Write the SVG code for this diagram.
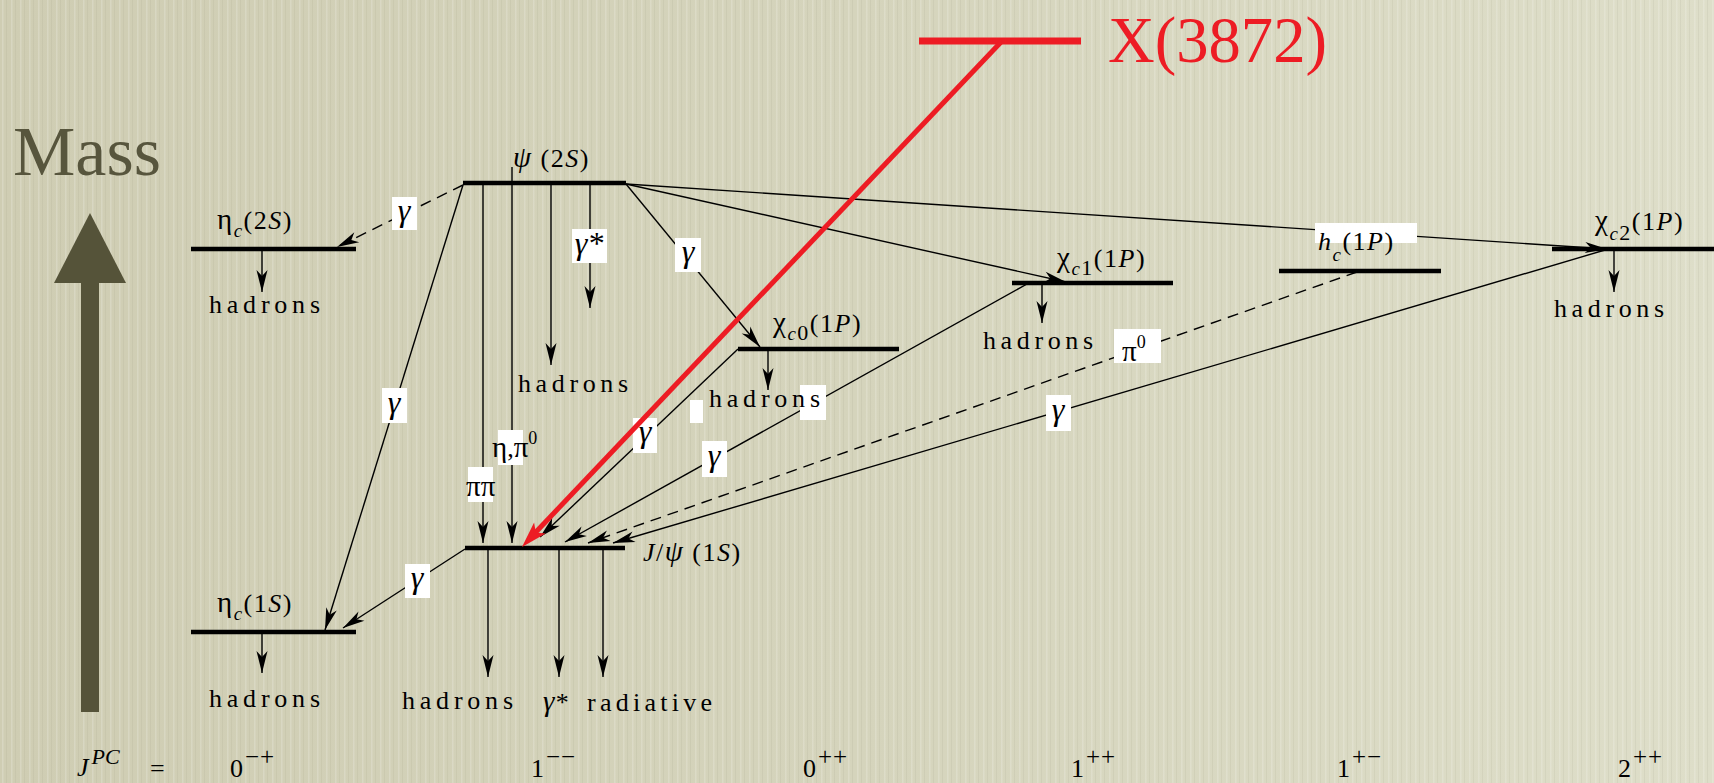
<svg xmlns="http://www.w3.org/2000/svg" width="1714" height="783" viewBox="0 0 1714 783">
<style>
.lvl{stroke:#000;stroke-width:4.5;fill:none}
.ln{stroke:#000;stroke-width:1.4;fill:none}
.dash{stroke-dasharray:11 7}
.arr{marker-end:url(#ah)}
.t{font-family:"Liberation Serif","Times New Roman",serif;font-size:26px;fill:#000}
.ls{letter-spacing:1.5px}
.it{font-style:italic}
.gk{font-size:29px}
.sub{font-size:19px;font-style:italic}
.sup{font-size:18px}
.jsup{font-size:25px;letter-spacing:1px}
.box{fill:#fff}
.g{font-family:"Liberation Serif","Times New Roman",serif;font-size:32px;font-style:italic;fill:#000;text-anchor:middle}
</style>
<defs>
<linearGradient id="bg" x1="0" y1="0" x2="1" y2="0">
<stop offset="0" stop-color="#cfcdb3"/>
<stop offset="0.5" stop-color="#d5d4bc"/>
<stop offset="1" stop-color="#dedec9"/>
</linearGradient>
<pattern id="streaks" width="9" height="40" patternUnits="userSpaceOnUse">
<rect x="2" y="0" width="1.5" height="40" fill="#ffffff" opacity="0.18"/>
<rect x="6" y="0" width="1" height="40" fill="#8f8d70" opacity="0.10"/>
</pattern>
<marker id="ah" markerUnits="userSpaceOnUse" markerWidth="26" markerHeight="14" viewBox="-23 -7 25 14" refX="0" refY="0" orient="auto">
<path d="M0,0 L-22,-5.5 L-16,0 L-22,5.5 Z" fill="#000"/>
</marker>
</defs>
<rect width="1714" height="783" fill="url(#bg)"/>
<rect width="1714" height="783" fill="url(#streaks)"/>

<g id="mass-axis">
<text x="13" y="175" font-family="Liberation Serif,serif" font-size="70" fill="#57553d" textLength="148" lengthAdjust="spacingAndGlyphs">Mass</text>
<polygon points="90,213 54,283 126,283" fill="#555339"/>
<rect x="81" y="280" width="18" height="432" fill="#555339"/>
</g>

<g id="connectors">
<line class="ln dash arr" x1="463" y1="185" x2="337" y2="247"/>
<line class="ln arr" x1="463" y1="185" x2="325" y2="630"/>
<line class="ln arr" x1="465" y1="549" x2="343" y2="628"/>
<line class="ln arr" x1="483" y1="183" x2="483" y2="543"/>
<line class="ln arr" x1="512" y1="167" x2="512" y2="543"/>
<line class="ln arr" x1="551" y1="183" x2="551" y2="365"/>
<line class="ln arr" x1="590" y1="183" x2="590" y2="308"/>
<line class="ln arr" x1="626" y1="184" x2="760" y2="347"/>
<line class="ln arr" x1="626" y1="184" x2="1066" y2="282"/>
<line class="ln arr" x1="626" y1="184" x2="1607" y2="249"/>
<line class="ln arr" x1="738" y1="349" x2="540" y2="537"/>
<line class="ln arr" x1="1027" y1="284" x2="565" y2="542"/>
<line class="ln dash arr" x1="1357" y1="272" x2="588" y2="543"/>
<line class="ln arr" x1="1605" y1="250" x2="613" y2="543"/>
<line class="ln arr" x1="262" y1="249" x2="262" y2="292"/>
<line class="ln arr" x1="262" y1="632" x2="262" y2="673"/>
<line class="ln arr" x1="768" y1="349" x2="768" y2="390"/>
<line class="ln arr" x1="1042" y1="283" x2="1042" y2="323"/>
<line class="ln arr" x1="1614" y1="249" x2="1614" y2="292"/>
<line class="ln arr" x1="488" y1="548" x2="488" y2="677"/>
<line class="ln arr" x1="559" y1="548" x2="559" y2="677"/>
<line class="ln arr" x1="603" y1="548" x2="603" y2="677"/>
</g>

<g id="node-etac2S">
<line class="lvl" x1="191" y1="249" x2="356" y2="249"/>
<text class="t ls" x="217" y="229"><tspan class="gk">η</tspan><tspan class="sub" dy="8">c</tspan><tspan dy="-8">(2</tspan><tspan class="it">S</tspan>)</text>
</g>
<g id="node-etac1S">
<line class="lvl" x1="191" y1="632" x2="356" y2="632"/>
<text class="t ls" x="217" y="612"><tspan class="gk">η</tspan><tspan class="sub" dy="8">c</tspan><tspan dy="-8">(1</tspan><tspan class="it">S</tspan>)</text>
</g>
<g id="node-psi2S">
<line class="lvl" x1="463" y1="183" x2="626" y2="183"/>
<text class="t ls" x="513" y="167"><tspan class="it gk">ψ</tspan> (2<tspan class="it">S</tspan>)</text>
</g>
<g id="node-jpsi1S">
<line class="lvl" x1="465" y1="548" x2="625" y2="548"/>
<text class="t ls" x="643" y="561"><tspan class="it">J</tspan>/<tspan class="it gk">ψ</tspan> (1<tspan class="it">S</tspan>)</text>
</g>
<g id="node-chic0">
<line class="lvl" x1="738" y1="349" x2="899" y2="349"/>
<text class="t ls" x="773" y="332"><tspan class="gk">χ</tspan><tspan class="sub" dy="8">c</tspan><tspan font-size="22">0</tspan><tspan dy="-8">(1</tspan><tspan class="it">P</tspan>)</text>
</g>
<g id="node-chic1">
<line class="lvl" x1="1012" y1="283" x2="1173" y2="283"/>
<text class="t ls" x="1057" y="267"><tspan class="gk">χ</tspan><tspan class="sub" dy="8">c</tspan><tspan font-size="22">1</tspan><tspan dy="-8">(1</tspan><tspan class="it">P</tspan>)</text>
</g>
<g id="node-hc">
<line class="lvl" x1="1279" y1="271" x2="1441" y2="271"/>
<rect class="box" x="1315" y="223" width="102" height="20"/>
<text class="t ls" x="1318" y="250"><tspan class="it">h</tspan><tspan class="sub" dy="11">c</tspan><tspan dy="-11">(1</tspan><tspan class="it">P</tspan>)</text>
</g>
<g id="node-chic2">
<line class="lvl" x1="1552" y1="249" x2="1714" y2="249"/>
<text class="t ls" x="1595" y="230"><tspan class="gk">χ</tspan><tspan class="sub" dy="10">c</tspan><tspan font-size="22">2</tspan><tspan dy="-10">(1</tspan><tspan class="it">P</tspan>)</text>
</g>

<g id="hadrons-labels">
<text class="t" x="209" y="313" textLength="111">hadrons</text>
<text class="t" x="209" y="707" textLength="111">hadrons</text>
<text class="t" x="518" y="392" textLength="110">hadrons</text>
<rect class="box" x="800" y="385" width="26" height="35"/>
<text class="t" x="709" y="407" textLength="111">hadrons</text>
<text class="t" x="983" y="349" textLength="110">hadrons</text>
<text class="t" x="1554" y="317" textLength="110">hadrons</text>
<text class="t" x="402" y="709" textLength="111">hadrons</text>
<text class="t it" x="543" y="711"><tspan class="gk">γ</tspan>*</text>
<text class="t" x="587" y="711" textLength="125">radiative</text>
</g>

<g id="edge-labels">
<rect class="box" x="392" y="197" width="25" height="33"/>
<text class="g" x="404" y="221">γ</text>
<rect class="box" x="382" y="388" width="25" height="35"/>
<text class="g" x="394" y="413">γ</text>
<rect class="box" x="405" y="564" width="25" height="34"/>
<text class="g" x="417" y="588">γ</text>
<rect class="box" x="572" y="229" width="35" height="34"/>
<text class="g" x="589" y="254">γ*</text>
<rect class="box" x="675" y="238" width="26" height="34"/>
<text class="g" x="688" y="262">γ</text>
<rect class="box" x="468" y="467" width="25" height="35"/>
<text class="t gk" x="466" y="496">ππ</text>
<rect class="box" x="498" y="430" width="25" height="35"/>
<text class="t" x="492" y="457"><tspan class="gk">η</tspan>,<tspan class="gk">π</tspan><tspan class="sup" dy="-13">0</tspan></text>
<rect class="box" x="633" y="418" width="24" height="35"/>
<text class="g" x="645" y="442">γ</text>
<rect class="box" x="702" y="441" width="25" height="36"/>
<text class="g" x="714" y="466">γ</text>
<rect class="box" x="690" y="400" width="13" height="23"/>
<rect class="box" x="1114" y="329" width="47" height="34"/>
<text class="t" x="1122" y="361"><tspan class="gk">π</tspan><tspan class="sup" dy="-13">0</tspan></text>
<rect class="box" x="1046" y="395" width="25" height="36"/>
<text class="g" x="1058" y="420">γ</text>
</g>

<g id="jpc-row">
<text class="t" x="77" y="776" font-size="27"><tspan class="it">J</tspan><tspan class="it" font-size="22" dx="3" dy="-12">PC</tspan></text>
<text class="t" x="150" y="777" font-size="22">=</text>
<text class="t" x="230" y="777" font-size="27">0<tspan class="jsup" dx="2" dy="-12">−+</tspan></text>
<text class="t" x="531" y="777" font-size="27">1<tspan class="jsup" dx="2" dy="-12">−−</tspan></text>
<text class="t" x="803" y="777" font-size="27">0<tspan class="jsup" dx="2" dy="-12">++</tspan></text>
<text class="t" x="1071" y="777" font-size="27">1<tspan class="jsup" dx="2" dy="-12">++</tspan></text>
<text class="t" x="1337" y="777" font-size="27">1<tspan class="jsup" dx="2" dy="-12">+−</tspan></text>
<text class="t" x="1618" y="777" font-size="27">2<tspan class="jsup" dx="2" dy="-12">++</tspan></text>
</g>

<g id="node-x3872">
<line x1="919" y1="41" x2="1081" y2="41" stroke="#ed1c24" stroke-width="7"/>
<line x1="1002" y1="41" x2="535" y2="533" stroke="#ed1c24" stroke-width="5"/>
<polygon points="522,547 545.7,533.6 535.8,532.5 534.1,522.6" fill="#ed1c24"/>
<text x="1108" y="62" font-family="Liberation Serif,serif" font-size="66" fill="#ed1c24" textLength="219" lengthAdjust="spacingAndGlyphs">X(3872)</text>
</g>
</svg>
